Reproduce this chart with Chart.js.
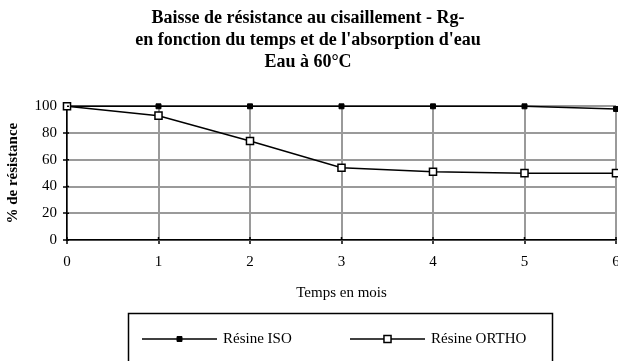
<!DOCTYPE html>
<html>
<head>
<meta charset="utf-8">
<script src="https://cdn.jsdelivr.net/npm/chart.js@4"></script>
<style>
    html, body { margin: 0; padding: 0; background: #fff; overflow: hidden; }
    #wrap { width: 618px; height: 361px; overflow: hidden; }
    #wrap canvas { display: block; }
</style>
</head>
<body>
<div id="wrap"><canvas id="chart" width="640" height="361"></canvas></div>
<script>
const months = [0, 1, 2, 3, 4, 5, 6];
const isoValues = [100, 100, 100, 100, 100, 100, 98];
const orthoValues = [100, 93, 74, 54, 51, 50, 50];
const titleLines = [
    'Baisse de résistance au cisaillement - Rg-',
    "en fonction du temps et de l'absorption d'eau",
    'Eau à 60°C'
];
const xTitle = 'Temps en mois';
const yTitle = '% de résistance';

const serif = "'Liberation Serif', 'Times New Roman', serif";
const gridGray = '#9a9a9a';

// short tick stubs on the inner side of both axes, so the ticks cross the axis line
const crossTicks = {
    id: 'crossTicks',
    afterDatasetsDraw(chart) {
        const { ctx, chartArea, scales } = chart;
        ctx.save();
        ctx.strokeStyle = '#000';
        ctx.lineWidth = 1.5;
        ctx.beginPath();
        scales.x.ticks.forEach(t => {
            const px = scales.x.getPixelForValue(t.value);
            ctx.moveTo(px, chartArea.bottom);
            ctx.lineTo(px, chartArea.bottom - 3);
        });
        scales.y.ticks.forEach(t => {
            const py = scales.y.getPixelForValue(t.value);
            ctx.moveTo(chartArea.left, py);
            ctx.lineTo(chartArea.left + 2, py);
        });
        ctx.stroke();
        ctx.restore();
    }
};

// legend in a framed box under the axis, drawn from the dataset styles
const boxedLegend = {
    id: 'boxedLegend',
    afterDraw(chart) {
        const ctx = chart.ctx;
        ctx.save();
        ctx.strokeStyle = '#000';
        ctx.lineWidth = 1.5;
        ctx.strokeRect(128.5, 313.5, 424, 60);

        const cy = 339;
        const starts = [142, 350];
        chart.data.datasets.forEach((ds, i) => {
            const x0 = starts[i];
            ctx.strokeStyle = '#000';
            ctx.lineWidth = ds.borderWidth;
            ctx.beginPath();
            ctx.moveTo(x0, cy);
            ctx.lineTo(x0 + 75, cy);
            ctx.stroke();
            ctx.fillStyle = ds.pointBackgroundColor;
            ctx.strokeStyle = ds.pointBorderColor;
            ctx.lineWidth = ds.pointBorderWidth;
            Chart.helpers.drawPoint(ctx, {
                pointStyle: ds.pointStyle,
                radius: ds.pointRadius,
                rotation: 0,
                borderWidth: ds.pointBorderWidth
            }, x0 + 37.5, cy);
            ctx.fillStyle = '#000';
            ctx.font = '15px ' + serif;
            ctx.textBaseline = 'middle';
            ctx.textAlign = 'left';
            ctx.fillText(ds.label, x0 + 81, cy);
        });
        ctx.restore();
    }
};

new Chart(document.getElementById('chart'), {
    type: 'line',
    data: {
        datasets: [
            {
                label: 'Résine ISO',
                data: months.map((m, i) => ({ x: m, y: isoValues[i] })),
                order: 1,
                borderColor: '#000',
                borderWidth: 1.5,
                pointStyle: 'rect',
                pointRadius: 3.5,
                pointBackgroundColor: '#000',
                pointBorderColor: '#000',
                pointBorderWidth: 1,
                tension: 0,
                clip: false
            },
            {
                label: 'Résine ORTHO',
                data: months.map((m, i) => ({ x: m, y: orthoValues[i] })),
                order: 0,
                borderColor: '#000',
                borderWidth: 1.5,
                pointStyle: 'rect',
                pointRadius: 5,
                pointBackgroundColor: '#fff',
                pointBorderColor: '#000',
                pointBorderWidth: 1.5,
                tension: 0,
                clip: false
            }
        ]
    },
    options: {
        responsive: false,
        animation: false,
        events: [],
        layout: { padding: { top: 0, left: 0, right: 24, bottom: 59 } },
        plugins: {
            legend: { display: false },
            tooltip: { enabled: false },
            title: {
                display: true,
                text: titleLines,
                color: '#000',
                font: { family: serif, size: 18, weight: 'bold', lineHeight: 1.2 },
                padding: { top: 8, bottom: 33.5 }
            }
        },
        scales: {
            x: {
                type: 'linear',
                min: 0,
                max: 6,
                afterFit: (scale) => { scale.height = 62; },
                ticks: {
                    stepSize: 1,
                    color: '#000',
                    padding: 9,
                    font: { family: serif, size: 15 }
                },
                grid: {
                    color: gridGray,
                    lineWidth: 2,
                    tickColor: '#000',
                    tickWidth: 1.5,
                    tickLength: 4
                },
                border: { color: '#000', width: 1.5 },
                title: {
                    display: true,
                    text: xTitle,
                    color: '#000',
                    padding: 0,
                    font: { family: serif, size: 15, lineHeight: 1.2 }
                }
            },
            y: {
                min: 0,
                max: 100,
                afterFit: (scale) => { scale.width = 67; },
                ticks: {
                    stepSize: 20,
                    color: '#000',
                    padding: 6,
                    font: { family: serif, size: 15 }
                },
                grid: {
                    color: gridGray,
                    lineWidth: 2,
                    tickColor: '#000',
                    tickWidth: 1.5,
                    tickLength: 4
                },
                border: { color: '#000', width: 1.5 },
                title: {
                    display: true,
                    text: yTitle,
                    color: '#000',
                    padding: { top: 4, bottom: 0 },
                    font: { family: serif, size: 15, weight: 'bold', lineHeight: 1.2 }
                }
            }
        }
    },
    plugins: [crossTicks, boxedLegend]
});
</script>
</body>
</html>
